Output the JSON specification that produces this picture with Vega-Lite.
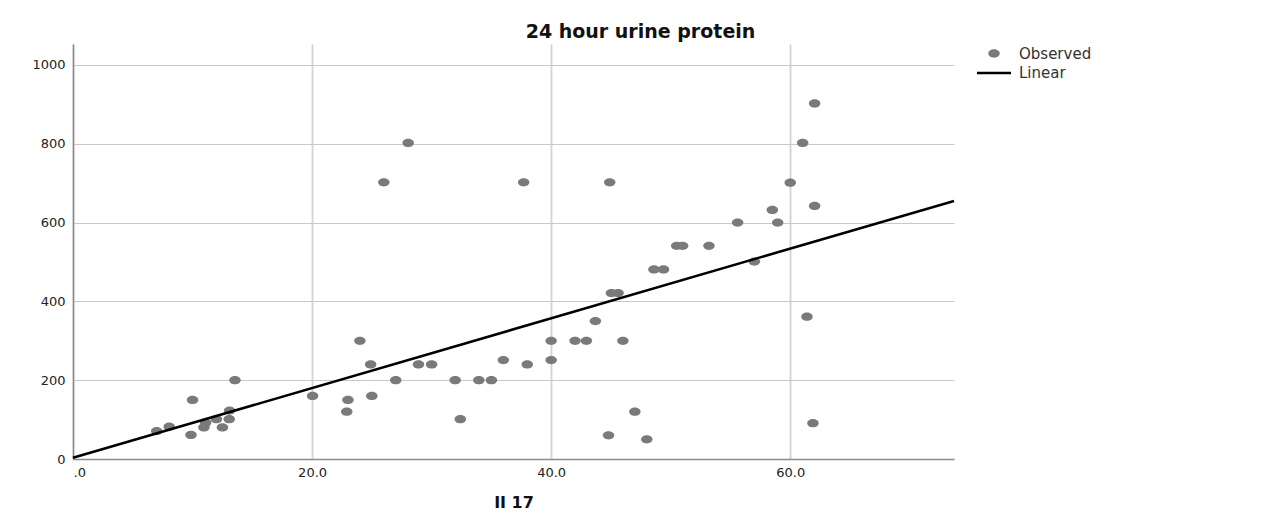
{
  "$schema": "https://vega.github.io/schema/vega-lite/v6.json",
  "autosize": {"type": "none"},
  "width": 881,
  "height": 415,
  "padding": {"left": 73, "top": 44, "right": 325, "bottom": 62},
  "background": "white",
  "title": {
    "text": "24 hour urine protein",
    "font": "DejaVu Sans",
    "fontSize": 19,
    "fontWeight": "bold",
    "color": "#111",
    "anchor": "middle",
    "dx": 127,
    "offset": 2
  },
  "config": {
    "view": {"stroke": null},
    "axis": {
      "labelFont": "DejaVu Sans",
      "labelFontSize": 13,
      "labelColor": "#222",
      "ticks": false,
      "domainColor": "#8a8a8a",
      "domainWidth": 1.5,
      "titleFont": "DejaVu Sans",
      "titleFontSize": 16,
      "titleFontWeight": "bold",
      "titleColor": "#111"
    },
    "legend": {
      "title": null,
      "orient": "right",
      "offset": 28,
      "labelFont": "DejaVu Sans",
      "labelFontSize": 15,
      "labelColor": "#333",
      "labelOffset": 15,
      "rowPadding": 0,
      "padding": 2,
      "symbolStrokeWidth": 2.5,
      "symbolOpacity": 1
    }
  },
  "datasets": {
    "obs": [
      {"il17": 7.0, "protein": 71, "series": "Observed"},
      {"il17": 8.05, "protein": 82, "series": "Observed"},
      {"il17": 10.0, "protein": 150, "series": "Observed"},
      {"il17": 9.87, "protein": 61, "series": "Observed"},
      {"il17": 10.95, "protein": 80, "series": "Observed"},
      {"il17": 11.1, "protein": 92, "series": "Observed"},
      {"il17": 12.0, "protein": 101, "series": "Observed"},
      {"il17": 12.5, "protein": 80, "series": "Observed"},
      {"il17": 13.07, "protein": 101, "series": "Observed"},
      {"il17": 13.1, "protein": 123, "series": "Observed"},
      {"il17": 13.55, "protein": 200, "series": "Observed"},
      {"il17": 20.04, "protein": 160, "series": "Observed"},
      {"il17": 22.9, "protein": 120, "series": "Observed"},
      {"il17": 23.0, "protein": 150, "series": "Observed"},
      {"il17": 24.0, "protein": 300, "series": "Observed"},
      {"il17": 24.9, "protein": 240, "series": "Observed"},
      {"il17": 25.0, "protein": 160, "series": "Observed"},
      {"il17": 26.0, "protein": 702, "series": "Observed"},
      {"il17": 27.0, "protein": 200, "series": "Observed"},
      {"il17": 28.04, "protein": 802, "series": "Observed"},
      {"il17": 28.9, "protein": 240, "series": "Observed"},
      {"il17": 30.0, "protein": 240, "series": "Observed"},
      {"il17": 31.97, "protein": 200, "series": "Observed"},
      {"il17": 32.4, "protein": 101, "series": "Observed"},
      {"il17": 33.95, "protein": 200, "series": "Observed"},
      {"il17": 35.0, "protein": 200, "series": "Observed"},
      {"il17": 36.0, "protein": 251, "series": "Observed"},
      {"il17": 37.7, "protein": 702, "series": "Observed"},
      {"il17": 38.0, "protein": 240, "series": "Observed"},
      {"il17": 40.0, "protein": 300, "series": "Observed"},
      {"il17": 40.0, "protein": 251, "series": "Observed"},
      {"il17": 42.0, "protein": 300, "series": "Observed"},
      {"il17": 42.95, "protein": 300, "series": "Observed"},
      {"il17": 43.7, "protein": 350, "series": "Observed"},
      {"il17": 44.8, "protein": 60, "series": "Observed"},
      {"il17": 44.9, "protein": 702, "series": "Observed"},
      {"il17": 45.04, "protein": 421, "series": "Observed"},
      {"il17": 45.6, "protein": 421, "series": "Observed"},
      {"il17": 46.0, "protein": 300, "series": "Observed"},
      {"il17": 47.0, "protein": 120, "series": "Observed"},
      {"il17": 48.0, "protein": 50, "series": "Observed"},
      {"il17": 48.6, "protein": 481, "series": "Observed"},
      {"il17": 49.4, "protein": 481, "series": "Observed"},
      {"il17": 50.5, "protein": 541, "series": "Observed"},
      {"il17": 51.0, "protein": 541, "series": "Observed"},
      {"il17": 53.2, "protein": 541, "series": "Observed"},
      {"il17": 55.6, "protein": 600, "series": "Observed"},
      {"il17": 57.0, "protein": 501, "series": "Observed"},
      {"il17": 58.5, "protein": 632, "series": "Observed"},
      {"il17": 58.95, "protein": 600, "series": "Observed"},
      {"il17": 60.0, "protein": 701, "series": "Observed"},
      {"il17": 61.04, "protein": 802, "series": "Observed"},
      {"il17": 61.4, "protein": 361, "series": "Observed"},
      {"il17": 62.04, "protein": 902, "series": "Observed"},
      {"il17": 62.04, "protein": 642, "series": "Observed"},
      {"il17": 61.9, "protein": 91, "series": "Observed"}
    ],
    "fit": [
      {"il17": 0, "protein": 3.3},
      {"il17": 73.7, "protein": 654.8}
    ]
  },
  "layer": [
    {
      "data": {"name": "obs"},
      "mark": {"type": "point", "filled": true, "opacity": 1},
      "encoding": {
        "x": {
          "field": "il17",
          "type": "quantitative",
          "title": "II 17",
          "scale": {"domain": [0, 73.7], "nice": false, "zero": false},
          "axis": {
            "values": [0, 20, 40, 60],
            "labelExpr": "datum.value === 0 ? '.0' : format(datum.value, '.1f')",
            "labelPadding": 7,
            "titlePadding": 15,
            "gridColor": "#d2d2d2",
            "gridWidth": 1.8
          }
        },
        "y": {
          "field": "protein",
          "type": "quantitative",
          "title": null,
          "scale": {"domain": [0, 1053], "nice": false},
          "axis": {
            "values": [0, 200, 400, 600, 800, 1000],
            "format": "d",
            "labelPadding": 8,
            "gridColor": "#c8c8c8",
            "gridWidth": 1
          }
        },
        "fill": {
          "field": "series",
          "type": "nominal",
          "scale": {"domain": ["Observed", "Linear"], "range": ["#7a7a7a", "transparent"]}
        },
        "stroke": {
          "field": "series",
          "type": "nominal",
          "scale": {"domain": ["Observed", "Linear"], "range": ["transparent", "#000000"]}
        },
        "shape": {
          "field": "series",
          "type": "nominal",
          "scale": {"domain": ["Observed", "Linear"], "range": ["M-1,0A1,0.72,0,1,0,1,0A1,0.72,0,1,0,-1,0Z", "M-2,0H2"]}
        },
        "size": {
          "field": "series",
          "type": "nominal",
          "scale": {"domain": ["Observed", "Linear"], "range": [132, 289]}
        }
      }
    },
    {
      "data": {"name": "fit"},
      "mark": {"type": "line", "color": "#000000", "strokeWidth": 2.5},
      "encoding": {
        "x": {"field": "il17", "type": "quantitative"},
        "y": {"field": "protein", "type": "quantitative"}
      }
    }
  ]
}
